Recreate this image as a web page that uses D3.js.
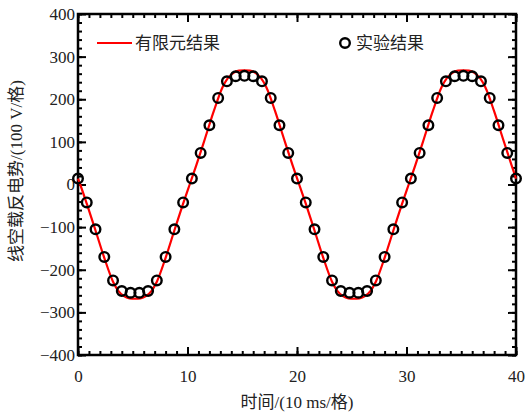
<!DOCTYPE html>
<html>
<head>
<meta charset="utf-8">
<script src="https://cdn.jsdelivr.net/npm/d3@7"></script>
<style>
  html, body { margin: 0; padding: 0; background: #fff; }
  svg { display: block; }
  text { font-family: "Liberation Serif", "Times New Roman", "Noto Sans CJK SC", serif; fill: #222; }
</style>
</head>
<body>
<svg id="chart" width="525" height="416"></svg>
<script>
// Finite-element back-EMF waveform (time in 10 ms/div, voltage in 100 V/div)
const femTime = [0, 0.2, 0.8, 1.6, 2.4, 3.2, 3.7, 4.2, 4.7, 5.2, 5.7, 6.2, 6.7, 7.2, 8.0, 8.8, 9.6,
  10.2, 10.8, 11.6, 12.4, 13.2, 13.7, 14.2, 14.7, 15.2, 15.7, 16.2, 16.7, 17.2, 18.0, 18.8, 19.6,
  20.2, 20.8, 21.6, 22.4, 23.2, 23.7, 24.2, 24.7, 25.2, 25.7, 26.2, 26.7, 27.2, 28.0, 28.8, 29.6,
  30.2, 30.8, 31.6, 32.4, 33.2, 33.7, 34.2, 34.7, 35.2, 35.7, 36.2, 36.7, 37.2, 38.0, 38.8, 39.6, 40];
const femEmf = [14, 0, -45, -108, -172, -228, -250, -262, -267, -268, -267, -262, -250, -228, -172, -108, -45,
  0, 45, 108, 172, 228, 250, 262, 267, 268, 267, 262, 250, 228, 172, 108, 45,
  0, -45, -108, -172, -228, -250, -262, -267, -268, -267, -262, -250, -228, -172, -108, -45,
  0, 45, 108, 172, 228, 250, 262, 267, 268, 267, 262, 250, 228, 172, 108, 45, 14];

// Measured back-EMF samples
const expTime = [0, 0.8, 1.6, 2.4, 3.2, 4.0, 4.8, 5.6, 6.4, 7.2, 8.0, 8.8, 9.6,
  10.4, 11.2, 12.0, 12.8, 13.6, 14.4, 15.2, 16.0, 16.8, 17.6, 18.4, 19.2,
  20.0, 20.8, 21.6, 22.4, 23.2, 24.0, 24.8, 25.6, 26.4, 27.2, 28.0, 28.8, 29.6,
  30.4, 31.2, 32.0, 32.8, 33.6, 34.4, 35.2, 36.0, 36.8, 37.6, 38.4, 39.2, 40.0];
const expEmf = [14, -42, -105, -170, -225, -250, -254, -254, -250, -225, -170, -105, -42,
  14, 74, 139, 203, 242, 254, 255, 254, 242, 203, 139, 74,
  14, -42, -105, -170, -225, -250, -254, -254, -250, -225, -170, -105, -42,
  14, 74, 139, 203, 242, 254, 255, 254, 242, 203, 139, 74, 14];

const xTicks = [0, 10, 20, 30, 40];
const yTicks = [-400, -300, -200, -100, 0, 100, 200, 300, 400];
const xMinor = d3.range(0, 41, 1);
const yMinor = d3.range(-400, 401, 20);

const legendLabels = ["有限元结果", "实验结果"];
const xTitle = "时间/(10 ms/格)";
const yTitle = "线空载反电势/(100 V/格)";

const svg = d3.select("#chart");
const margin = { left: 78, right: 9, top: 14, bottom: 61 };
const W = 525, H = 416;
const x = d3.scaleLinear().domain([0, 40]).range([margin.left, W - margin.right]);
const y = d3.scaleLinear().domain([-400, 400]).range([H - margin.bottom, margin.top]);

const fontSize = 17;
const serif = '"Liberation Serif", "Times New Roman", serif';

// Ticks (all pointing inward)
function styleAxis(g) {
  g.select(".domain").remove();
  g.selectAll(".tick line").attr("stroke", "#000").attr("stroke-width", 2);
  g.selectAll(".tick text").attr("font-size", fontSize).attr("fill", "#222")
    .style("font-family", serif);
}

// minor ticks
svg.append("g").attr("transform", `translate(0,${y(-400)})`)
  .call(d3.axisBottom(x).tickValues(xMinor).tickSize(-4).tickFormat(""))
  .call(styleAxis);
svg.append("g").attr("transform", `translate(0,${y(400)})`)
  .call(d3.axisTop(x).tickValues(xMinor).tickSize(-4).tickFormat(""))
  .call(styleAxis);
svg.append("g").attr("transform", `translate(${x(0)},0)`)
  .call(d3.axisLeft(y).tickValues(yMinor).tickSize(-4).tickFormat(""))
  .call(styleAxis);
svg.append("g").attr("transform", `translate(${x(40)},0)`)
  .call(d3.axisRight(y).tickValues(yMinor).tickSize(-4).tickFormat(""))
  .call(styleAxis);

// major ticks with labels
svg.append("g").attr("transform", `translate(0,${y(-400)})`)
  .call(d3.axisBottom(x).tickValues(xTicks).tickSize(-8).tickPadding(15).tickFormat(d3.format("d")))
  .call(styleAxis);
svg.append("g").attr("transform", `translate(0,${y(400)})`)
  .call(d3.axisTop(x).tickValues(xTicks).tickSize(-8).tickFormat(""))
  .call(styleAxis);
svg.append("g").attr("transform", `translate(${x(0)},0)`)
  .call(d3.axisLeft(y).tickValues(yTicks).tickSize(-8).tickPadding(3).tickFormat(d => d < 0 ? "\u2212" + Math.abs(d) : d))
  .call(styleAxis);
svg.append("g").attr("transform", `translate(${x(40)},0)`)
  .call(d3.axisRight(y).tickValues(yTicks).tickSize(-8).tickFormat(""))
  .call(styleAxis);

// Plot frame
svg.append("rect")
  .attr("x", x(0)).attr("y", y(400))
  .attr("width", x(40) - x(0)).attr("height", y(-400) - y(400))
  .attr("fill", "none").attr("stroke", "#000").attr("stroke-width", 2.5);

// FEM curve
const femData = femTime.map((t, i) => [t, femEmf[i]]);
svg.append("path")
  .datum(femData)
  .attr("fill", "none")
  .attr("stroke", "#ff0000")
  .attr("stroke-width", 2.2)
  .attr("d", d3.line().x(d => x(d[0])).y(d => y(d[1])).curve(d3.curveMonotoneX));

// Experimental points
const expData = expTime.map((t, i) => [t, expEmf[i]]);
svg.append("g").selectAll("circle")
  .data(expData)
  .join("circle")
  .attr("cx", d => x(d[0]))
  .attr("cy", d => y(d[1]))
  .attr("r", 4.8)
  .attr("fill", "none")
  .attr("stroke", "#000")
  .attr("stroke-width", 2.4);

// Legend
const legY = 43;
svg.append("line").attr("x1", 97).attr("x2", 132).attr("y1", legY).attr("y2", legY)
  .attr("stroke", "#ff0000").attr("stroke-width", 2.2);
svg.append("text").attr("x", 135).attr("y", legY).attr("dy", "0.36em")
  .attr("font-size", fontSize).attr("fill", "#333")
  .style("font-family", '"Noto Sans CJK SC", sans-serif')
  .text(legendLabels[0]);
svg.append("circle").attr("cx", 345).attr("cy", legY).attr("r", 4.8)
  .attr("fill", "none").attr("stroke", "#000").attr("stroke-width", 2.4);
svg.append("text").attr("x", 356).attr("y", legY).attr("dy", "0.36em")
  .attr("font-size", fontSize).attr("fill", "#333")
  .style("font-family", '"Noto Sans CJK SC", sans-serif')
  .text(legendLabels[1]);

// Axis titles
svg.append("text")
  .attr("x", (x(0) + x(40)) / 2).attr("y", 408)
  .attr("text-anchor", "middle").attr("font-size", fontSize).attr("fill", "#333")
  .text(xTitle);
svg.append("text")
  .attr("transform", `translate(22,${171}) rotate(-90)`)
  .attr("text-anchor", "middle").attr("font-size", fontSize).attr("fill", "#333")
  .text(yTitle);
</script>
</body>
</html>
